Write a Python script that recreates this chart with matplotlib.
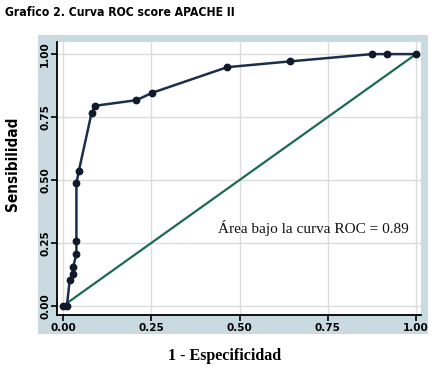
import numpy as np
import matplotlib.pyplot as plt
from matplotlib.patches import Rectangle

# ROC points (1 - specificity, sensitivity)
fpr = [0.0, 0.011, 0.019, 0.027, 0.029, 0.038, 0.038, 0.038, 0.045, 0.081, 0.092, 0.208, 0.252, 0.465, 0.643, 0.875, 0.919, 1.0]
tpr = [0.0, 0.0, 0.103, 0.127, 0.156, 0.206, 0.259, 0.487, 0.537, 0.767, 0.795, 0.817, 0.846, 0.948, 0.971, 1.0, 1.0, 1.0]
ref_line = [0.0, 1.0]
ticks = [0.0, 0.25, 0.5, 0.75, 1.0]
tick_labels = ['0.00', '0.25', '0.50', '0.75', '1.00']
auc_text = 'Área bajo la curva ROC = 0.89'

W, H = 436, 370
fig = plt.figure(figsize=(W / 100, H / 100), dpi=100)

# light blue-grey panel behind the plot (Stata style)
fig.patches.append(Rectangle((38 / W, 1 - 334 / H), (428 - 38) / W, (334 - 35) / H,
                             transform=fig.transFigure, facecolor='#c9dbe0',
                             edgecolor='none', zorder=0))

ax = fig.add_axes([57 / W, 1 - 315 / H, (421 - 57) / W, (315 - 42) / H])
ax.set_facecolor('white')
ax.set_zorder(1)

ax.set_xlim(-0.017, 1.014)
ax.set_ylim(-0.036, 1.048)

ax.grid(True, color='#dcdcdc', linewidth=1.0)
ax.set_axisbelow(True)

ax.plot(ref_line, ref_line, color='#1b6b4e', linewidth=1.6, zorder=2)
ax.plot(fpr, tpr, color='#1a2e4d', linewidth=1.8, marker='o', markersize=4.6,
        markerfacecolor='#111a2a', markeredgecolor='#111a2a', zorder=3)

ax.text(0.439, 0.31, auc_text, family='Liberation Serif', fontsize=11,
        ha='left', va='center', color='#111111')

for s in ['top', 'right']:
    ax.spines[s].set_visible(False)
for s in ['left', 'bottom']:
    ax.spines[s].set_linewidth(1.3)
    ax.spines[s].set_color('black')

ax.set_xticks(ticks)
ax.set_xticklabels(tick_labels)
ax.set_yticks(ticks)
ax.set_yticklabels(tick_labels, rotation=90, va='center')
ax.tick_params(direction='out', length=4, width=1.2, labelsize=7.5)
ax.tick_params(axis='y', pad=1)
ax.tick_params(axis='x', pad=2)
for lab in ax.get_xticklabels() + ax.get_yticklabels():
    lab.set_fontweight('bold')

fig.text(225 / W, 1 - 356 / H, '1 - Especificidad', family='Liberation Serif',
         fontweight='bold', fontsize=11.5, ha='center', va='center')
fig.text(13 / W, 1 - 164 / H, 'Sensibilidad', family='DejaVu Sans', fontstretch='condensed',
         fontweight='bold', fontsize=11, rotation=90, ha='center', va='center')
fig.text(5 / W, 1 - 13 / H, 'Grafico 2. Curva ROC score APACHE II',
         family='DejaVu Sans', fontstretch='condensed', fontweight='bold',
         fontsize=8.7, ha='left', va='center')

fig.savefig('out.png', dpi=100)
